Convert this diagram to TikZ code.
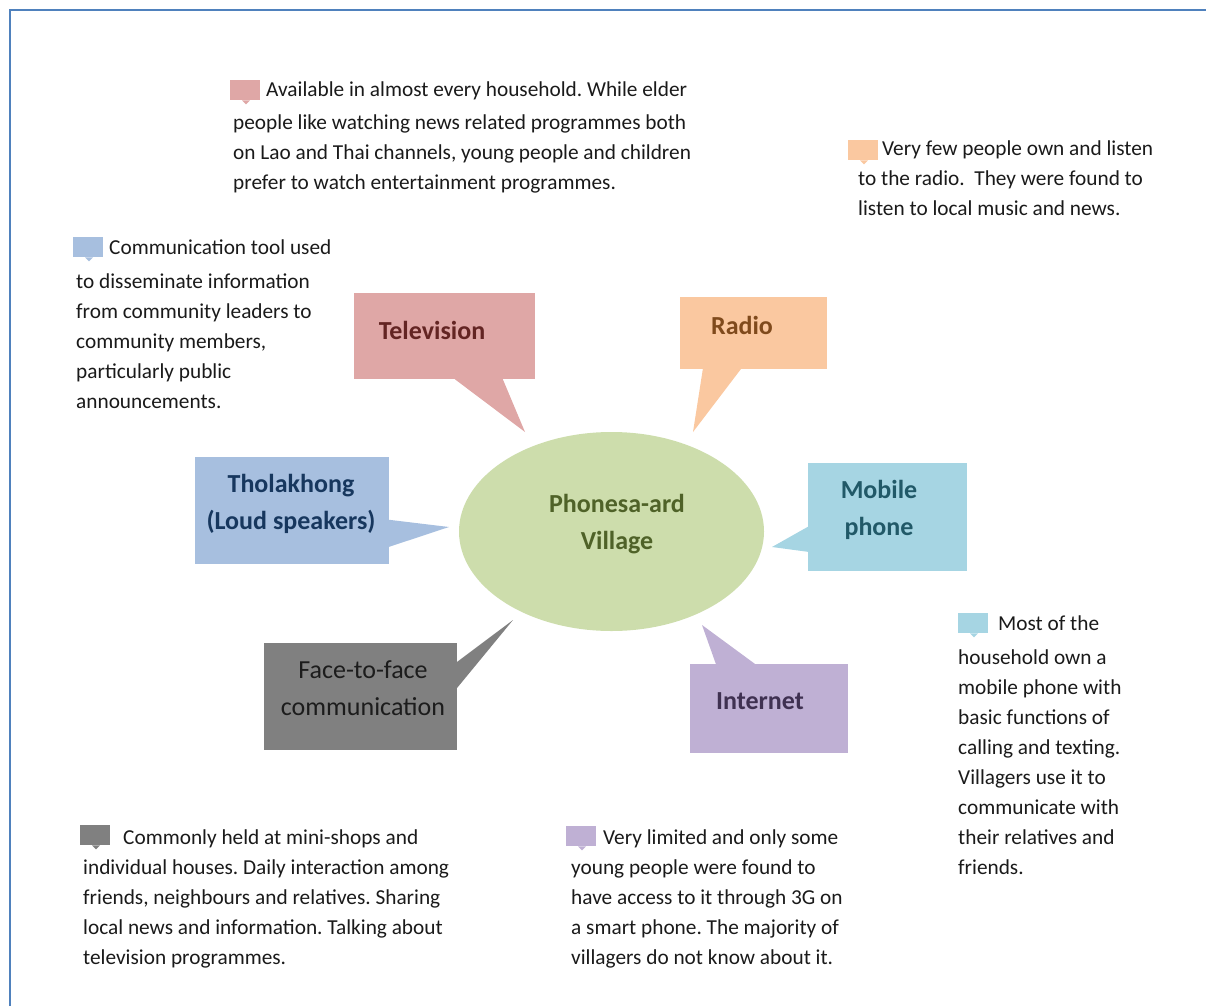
\documentclass[tikz,border=0pt]{standalone}
\usepackage{fontspec}
\setmainfont{Carlito}
\usepackage{tikz}
\usetikzlibrary{shapes.geometric, calc}
\frenchspacing
\definecolor{framebl}{HTML}{4F81BD}
\definecolor{tvfill}{HTML}{DFA7A6}
\definecolor{tvtext}{HTML}{632523}
\definecolor{radiofill}{HTML}{FAC8A0}
\definecolor{radiotext}{HTML}{7F4A1C}
\definecolor{mobilefill}{HTML}{A6D5E3}
\definecolor{mobiletext}{HTML}{215968}
\definecolor{netfill}{HTML}{BFB0D4}
\definecolor{nettext}{HTML}{3F3151}
\definecolor{loudfill}{HTML}{A7BFDF}
\definecolor{loudtext}{HTML}{17375E}
\definecolor{facefill}{HTML}{808080}
\definecolor{facetext}{HTML}{1C1C1C}
\definecolor{villagefill}{HTML}{CDDDAC}
\definecolor{villagetext}{HTML}{4F6228}
\definecolor{notedark}{HTML}{1A1A1A}
\tikzset{
  callbox/.style={rectangle, inner sep=0pt, draw=none},
  calltext/.style={font=\fontsize{26}{37}\selectfont\bfseries, align=center, inner sep=0pt},
  notetext/.style={font=\fontsize{21.3}{30}\selectfont, align=left, anchor=north west, inner sep=0pt, text=notedark},
  notemark/.style={rectangle, minimum width=30pt, minimum height=20pt, inner sep=0pt, anchor=north west},
}

\begin{document}
\begin{tikzpicture}[x=1pt, y=-1pt]
  \useasboundingbox (0,0) rectangle (1206,1006);
  \draw[framebl, line width=2pt] (10,1006) -- (10,10) -- (1206,10);

  % Centre
  \node[ellipse, fill=villagefill, minimum width=305pt, minimum height=199pt, inner sep=0pt] (village) at (611.5,531.5) {};
  \node[calltext, text=villagetext] (villagelabel) at (617,524) {Phonesa-ard\\Village};

  % Callout boxes
  \node[callbox, fill=tvfill, minimum width=181pt, minimum height=86pt] (tv) at (444.5,336) {};
  \node[callbox, fill=radiofill, minimum width=147pt, minimum height=72pt] (radio) at (753.5,333) {};
  \node[callbox, fill=mobilefill, minimum width=159pt, minimum height=108pt] (mobile) at (887.5,517) {};
  \node[callbox, fill=netfill, minimum width=158pt, minimum height=89pt] (internet) at (769,708.5) {};
  \node[callbox, fill=facefill, minimum width=193pt, minimum height=107pt] (face) at (360.5,696.5) {};
  \node[callbox, fill=loudfill, minimum width=194pt, minimum height=107pt] (loud) at (292,510.5) {};

  % Tails
  \coordinate (tvtip) at (525,432);
  \coordinate (radiotip) at (693,432);
  \coordinate (mobiletip) at (772,547);
  \coordinate (nettip) at (702,625);
  \coordinate (facetip) at (513,620);
  \coordinate (loudtip) at (449,527);
  \fill[tvfill] ($(tv.south west)+(101,0)$) -- (tvtip) -- ($(tv.south west)+(149,0)$) -- cycle;
  \fill[radiofill] ($(radio.south west)+(23,0)$) -- (radiotip) -- ($(radio.south west)+(61,0)$) -- cycle;
  \fill[mobilefill] ($(mobile.north west)+(0,64)$) -- (mobiletip) -- ($(mobile.north west)+(0,89)$) -- cycle;
  \fill[netfill] ($(internet.north west)+(26,0)$) -- (nettip) -- ($(internet.north west)+(65,0)$) -- cycle;
  \fill[facefill] ($(face.north east)+(0,19)$) -- (facetip) -- ($(face.north east)+(0,45)$) -- cycle;
  \fill[loudfill] ($(loud.north east)+(0,63)$) -- (loudtip) -- ($(loud.north east)+(0,90)$) -- cycle;

  % Box labels
  \node[calltext, text=tvtext] (tvlabel) at (432,330) {Television};
  \node[calltext, text=radiotext] (radiolabel) at (742,325) {Radio};
  \node[calltext, text=mobiletext] (mobilelabel) at (879,510) {Mobile\\phone};
  \node[calltext, text=nettext] (netlabel) at (760,701) {Internet};
  \node[calltext, text=facetext, font=\fontsize{26}{37}\selectfont\mdseries] (facelabel) at (363,688) {Face-to-face\\communication};
  \node[calltext, text=loudtext] (loudlabel) at (291,504) {Tholakhong\\(Loud speakers)};

  % Small note markers
  \foreach \n/\x/\y/\c in {tvmark/230/80/tvfill, radiomark/848/140/radiofill, loudmark/73/237/loudfill,
                          mobilemark/958/613/mobilefill, facemark/80/825/facefill, netmark/566/826/netfill} {
    \node[notemark, fill=\c] (\n) at (\x,\y) {};
    \fill[\c] ($(\n.south west)+(12,0)$) -- ++(4,4) -- ++(4,-4) -- cycle;
  }

  % Notes
  \node[notetext] (tvnote) at (233,82) {\hspace*{33pt}Available in almost every household. While elder\\[3pt]
    people like watching news related programmes both\\
    on Lao and Thai channels, young people and children\\
    prefer to watch entertainment programmes.};
  \node[notetext] (radionote) at (858,141) {\hspace*{24pt}Very few people own and listen\\
    to the radio.~ They were found to\\
    listen to local music and news.};
  \node[notetext] (loudnote) at (76,240) {\hspace*{33pt}Communication tool used\\[4pt]
    to disseminate information\\
    from community leaders to\\
    community members,\\
    particularly public\\
    announcements.};
  \node[notetext] (mobilenote) at (958,615) {\hspace*{40pt}Most of the\\[4pt]
    household own a\\
    mobile phone with\\
    basic functions of\\
    calling and texting.\\
    Villagers use it to\\
    communicate with\\
    their relatives and\\
    friends.};
  \node[notetext] (facenote) at (83,829) {\hspace*{40pt}Commonly held at mini-shops and\\
    individual houses. Daily interaction among\\
    friends, neighbours and relatives. Sharing\\
    local news and information. Talking about\\
    television programmes.};
  \node[notetext] (netnote) at (571,829) {\hspace*{32pt}Very limited and only some\\
    young people were found to\\
    have access to it through 3G on\\
    a smart phone. The majority of\\
    villagers do not know about it.};
\end{tikzpicture}
\end{document}
